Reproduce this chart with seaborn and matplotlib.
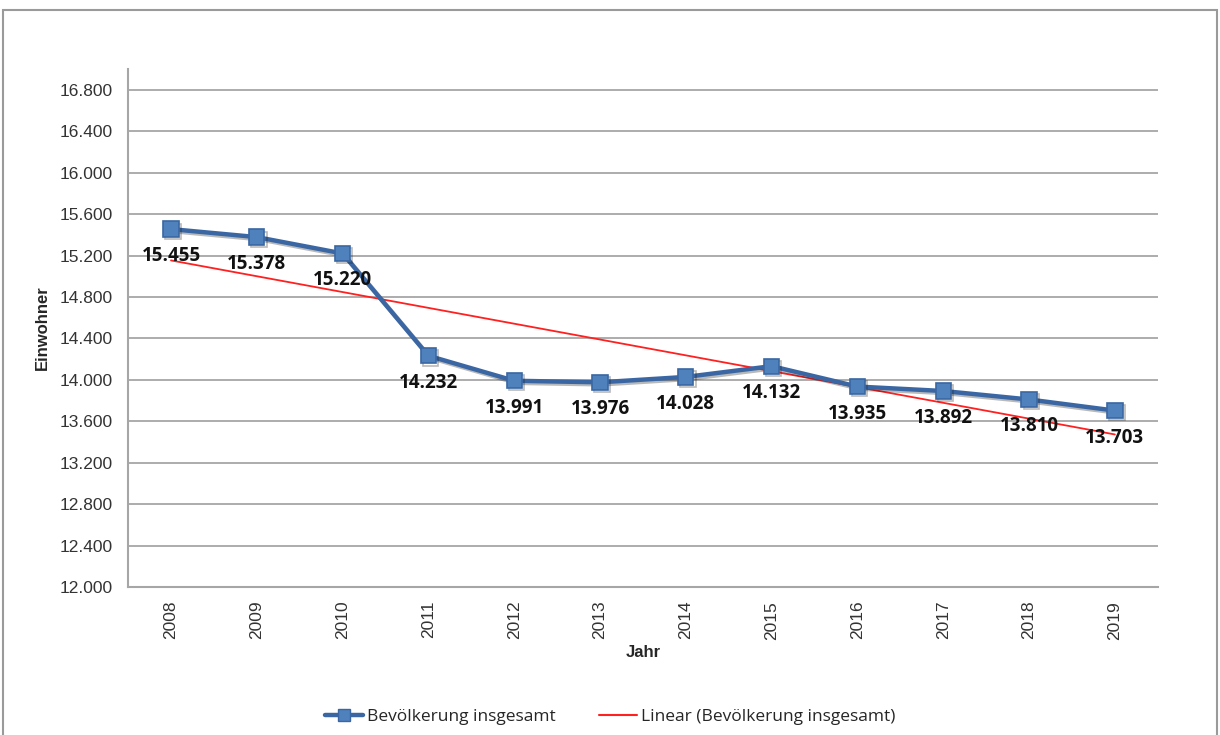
import numpy as np
import pandas as pd
import seaborn as sns
import matplotlib.pyplot as plt
from matplotlib.patches import Rectangle
import matplotlib.patheffects as pe

sns.set_theme(style="white")
plt.rcParams['font.family'] = ['Liberation Sans', 'DejaVu Sans']

# Data
years = ["2008", "2009", "2010", "2011", "2012", "2013",
         "2014", "2015", "2016", "2017", "2018", "2019"]
population = [15455, 15378, 15220, 14232, 13991, 13976,
              14028, 14132, 13935, 13892, 13810, 13703]
y_ticks = list(range(12000, 17000, 400))

df = pd.DataFrame({"idx": np.arange(len(years)), "Jahr": years, "Einwohner": population})

fig = plt.figure(figsize=(12.2, 7.35), dpi=100)
ax = fig.add_axes([0.105, 0.2014, 0.844, 0.7046])

# outer chart border
fig.patches.append(Rectangle((0.0025, -0.02), 0.995, 1.006, transform=fig.transFigure,
                             fill=False, edgecolor="#9a9a9a", linewidth=1.5))

# trend line (linear regression)
sns.regplot(data=df, x="idx", y="Einwohner", ax=ax, scatter=False, ci=None,
            truncate=True, line_kws=dict(color="#ff2020", linewidth=1.3, zorder=3))

# main series
shadow = [pe.SimpleLineShadow(offset=(1.5, -1.5), alpha=0.3), pe.Normal()]
sns.lineplot(data=df, x="idx", y="Einwohner", ax=ax, color="#3a67a3", linewidth=3.2,
             marker="s", markersize=11, markerfacecolor="#4f81bd",
             markeredgecolor="#3a67a3", markeredgewidth=1.2, zorder=4,
             path_effects=shadow)

# data labels
for i, v in enumerate(population):
    ax.annotate(f"{v:,}".replace(",", "."), (i, v), xytext=(0, -27),
                textcoords="offset pixels",
                ha="center", va="center", fontsize=13.5, fontweight="bold",
                color="#111111", family=["Open Sans", "DejaVu Sans"], zorder=5)

ax.set_xlim(-0.5, len(years) - 0.5)
ax.set_ylim(12000, 17000)
ax.set_xticks(df["idx"])
ax.set_xticklabels(years, rotation=90, fontsize=12.5, color="#333333")
ax.set_yticks(y_ticks)
ax.set_yticklabels([f"{t:,}".replace(",", ".") for t in y_ticks], fontsize=12.5, color="#333333")
ax.tick_params(axis="y", length=5, color="#a0a0a0", width=1.2, pad=6)
ax.tick_params(axis="x", length=0, pad=10)

ax.grid(axis="y", color="#a6a6a6", linewidth=1.3)
ax.set_axisbelow(True)
for s in ["top", "right"]:
    ax.spines[s].set_visible(False)
for s in ["left", "bottom"]:
    ax.spines[s].set_color("#a6a6a6")
    ax.spines[s].set_linewidth(1.5)

ax.set_xlabel("Jahr", fontsize=12, fontweight="bold", labelpad=4)
ax.set_ylabel("Einwohner", fontsize=12, fontweight="bold", labelpad=7)

handles = [
    plt.Line2D([], [], color="#3a67a3", linewidth=3.2, marker="s", markersize=9,
               markerfacecolor="#4f81bd", markeredgecolor="#3a67a3"),
    plt.Line2D([], [], color="#ff2020", linewidth=1.5),
]
fig.legend(handles, ["Bevölkerung insgesamt", "Linear (Bevölkerung insgesamt)"],
           loc="center", bbox_to_anchor=(0.5, 0.024), ncol=2, frameon=False,
           handlelength=2.2, handletextpad=0.2, columnspacing=2.5,
           prop={"family": ["Open Sans", "DejaVu Sans"], "size": 12.5})

fig.savefig("out.png", dpi=100)
